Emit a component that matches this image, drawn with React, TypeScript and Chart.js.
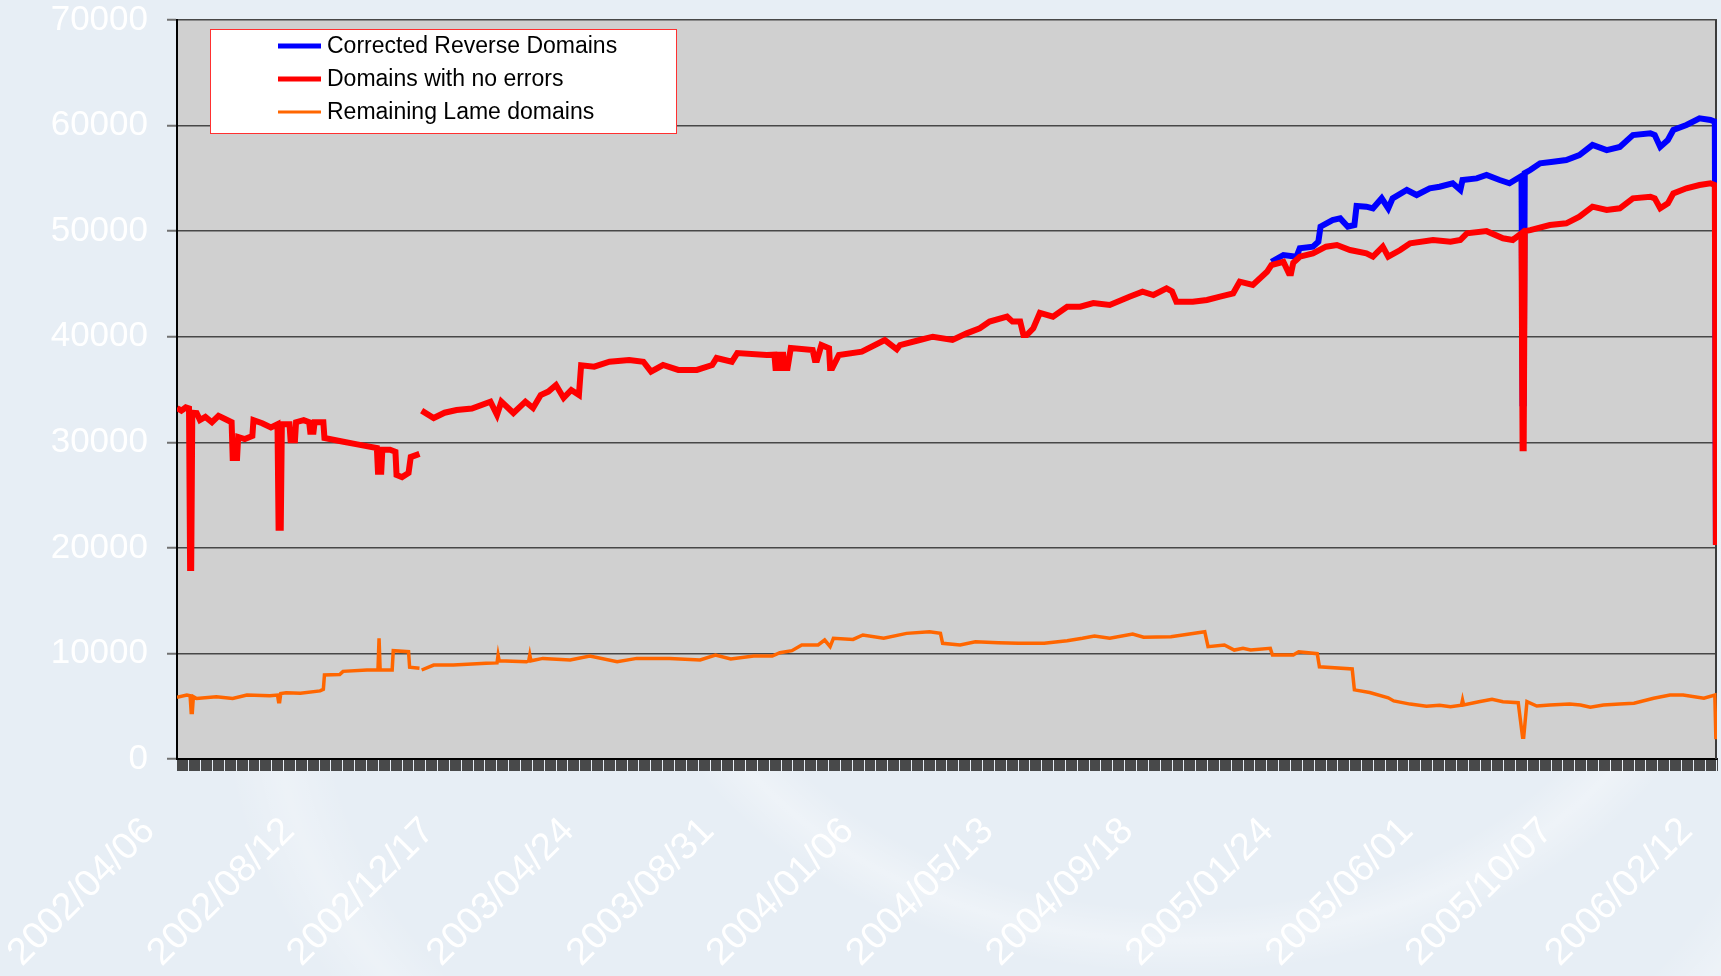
import { useEffect, useRef } from "react";
import { Chart, registerables } from "chart.js";

Chart.register(...registerables);

// ---------- data ----------
const dateLabels = [
  "2002/04/06", "2002/08/12", "2002/12/17", "2003/04/24", "2003/08/31", "2004/01/06",
  "2004/05/13", "2004/09/18", "2005/01/24", "2005/06/01", "2005/10/07", "2006/02/12",
];
const labelEvery = 128; // categories (days) between labelled ticks
const dayCount = 1410; // last category index on the axis

const seriesNames = ["Corrected Reverse Domains", "Domains with no errors", "Remaining Lame domains"];

// [day index, value]
const correctedReverse: [number, number | null][] = [
  [1002, 47100], [1013, 47740], [1025, 47580], [1028, 48370], [1040, 48530], [1045, 49000],
  [1047, 50420], [1058, 51050], [1065, 51210], [1072, 50420], [1078, 50580], [1080, 52380],
  [1089, 52320], [1095, 52160], [1103, 53110], [1109, 52160], [1113, 53110], [1126, 53900],
  [1135, 53420], [1147, 54060], [1156, 54210], [1168, 54530], [1175, 53900], [1177, 54840],
  [1190, 55000], [1199, 55320], [1211, 54840], [1220, 54530], [1231, 55220], [1232, 33700],
  [1233, 33700], [1234, 55500], [1239, 55790], [1248, 56420], [1260, 56580], [1272, 56740],
  [1284, 57210], [1296, 58160], [1309, 57680], [1321, 57980], [1333, 59100], [1349, 59270],
  [1353, 59100], [1358, 57980], [1365, 58630], [1370, 59580], [1382, 60050], [1394, 60680],
  [1404, 60530], [1408, 60370], [1409, 20300],
];

const noErrors: [number, number | null][] = [
  [0, 33250], [4, 33000], [8, 33300], [11, 33200], [12, 18100], [13, 18100], [14, 32800],
  [18, 32770], [21, 32100], [26, 32400], [32, 31900], [38, 32500], [44, 32200], [50, 31900],
  [51, 28500], [55, 28500], [56, 30500], [62, 30300], [69, 30600], [70, 32100], [78, 31800],
  [86, 31400], [92, 31700], [93, 21900], [95, 21900], [96, 31700], [103, 31700], [104, 30200],
  [108, 30200], [109, 31900], [116, 32100], [121, 31900], [122, 31000], [125, 31000],
  [126, 31900], [134, 31900], [135, 30400], [150, 30100], [165, 29800], [183, 29450],
  [184, 27200], [187, 27200], [188, 29300], [195, 29300], [200, 29100], [201, 26900],
  [206, 26700], [212, 27100], [214, 28600], [222, 28900], [223, null],
  [224, 33000], [235, 32300], [245, 32800], [256, 33050], [270, 33200], [287, 33850],
  [293, 32600], [297, 33850], [308, 32770], [319, 33850], [326, 33250], [333, 34480],
  [340, 34800], [347, 35420], [354, 34200], [361, 34950], [368, 34480], [370, 37300],
  [382, 37160], [396, 37630], [414, 37800], [427, 37630], [434, 36690], [445, 37320],
  [459, 36850], [476, 36850], [490, 37320], [494, 37980], [508, 37630], [513, 38450],
  [540, 38270], [547, 38300], [548, 37030], [551, 37030], [552, 38300], [555, 38300],
  [556, 37030], [559, 37030], [562, 38930], [582, 38740], [584, 37800], [586, 37800],
  [590, 39210], [597, 38900], [598, 37030], [600, 37030], [606, 38270], [627, 38580],
  [648, 39680], [659, 38800], [662, 39210], [680, 39690], [692, 40000], [710, 39690],
  [723, 40320], [735, 40800], [744, 41430], [760, 41900], [765, 41430], [772, 41430],
  [775, 40160], [778, 40160], [784, 40800], [790, 42250], [802, 41900], [815, 42840],
  [827, 42840], [839, 43190], [854, 43000], [872, 43790], [884, 44260], [894, 43950],
  [906, 44580], [911, 44300], [915, 43320], [930, 43320], [943, 43480], [955, 43790],
  [967, 44110], [973, 45210], [985, 44900], [998, 46150], [1002, 46790], [1013, 47100],
  [1018, 46000], [1020, 46000], [1022, 47000], [1028, 47580], [1040, 47900], [1052, 48530],
  [1062, 48690], [1074, 48210], [1089, 47900], [1095, 47580], [1104, 48530], [1109, 47580],
  [1120, 48210], [1129, 48850], [1150, 49160], [1166, 49000], [1175, 49160], [1181, 49790],
  [1199, 50000], [1214, 49320], [1223, 49160], [1231, 49790], [1232, 29430], [1233, 29430],
  [1234, 50000], [1239, 50100], [1257, 50580], [1272, 50740], [1284, 51370], [1296, 52320],
  [1309, 52000], [1321, 52160], [1333, 53110], [1349, 53260], [1353, 53100], [1358, 52160],
  [1365, 52630], [1370, 53580], [1382, 54060], [1394, 54370], [1404, 54530], [1408, 54370],
  [1409, 20270],
];

const lameDomains: [number, number | null][] = [
  [0, 5840], [9, 6060], [12, 6000], [13, 4400], [14, 4400], [15, 5900], [18, 5730],
  [36, 5900], [51, 5730], [64, 6060], [85, 6000], [92, 6060], [93, 5430], [94, 5430],
  [95, 6200], [100, 6280], [113, 6220], [131, 6450], [134, 6600], [135, 7960], [149, 8000],
  [152, 8300], [174, 8430], [184, 8430], [185, 11430], [186, 8430], [197, 8430], [198, 10260],
  [212, 10160], [213, 8690], [222, 8590], [223, null],
  [224, 8430], [235, 8900], [253, 8900], [283, 9060], [293, 9100], [294, 9850], [295, 9310],
  [320, 9220], [322, 9300], [323, 9850], [324, 9300], [335, 9530], [360, 9380], [378, 9750],
  [403, 9220], [421, 9530], [451, 9530], [479, 9380], [493, 9850], [507, 9470], [528, 9750],
  [545, 9750], [552, 10070], [563, 10260], [572, 10800], [587, 10800], [593, 11270],
  [598, 10640], [601, 11430], [619, 11330], [628, 11750], [647, 11430], [668, 11900],
  [689, 12060], [699, 11900], [701, 10960], [717, 10800], [731, 11110], [752, 11010],
  [770, 10960], [794, 10960], [815, 11200], [829, 11430], [840, 11650], [854, 11430],
  [875, 11840], [885, 11530], [910, 11590], [927, 11840], [941, 12060], [944, 10640],
  [959, 10800], [968, 10320], [976, 10480], [983, 10320], [1001, 10480], [1003, 9850],
  [1022, 9850], [1027, 10160], [1044, 9980], [1046, 8740], [1076, 8530], [1078, 6550],
  [1092, 6300], [1109, 5800], [1114, 5500], [1129, 5200], [1144, 5000], [1156, 5100],
  [1166, 4950], [1176, 5100], [1177, 5590], [1178, 5120], [1192, 5430], [1204, 5650],
  [1214, 5430], [1228, 5330], [1232, 2050], [1233, 2050], [1236, 5430], [1245, 5020],
  [1257, 5120], [1275, 5210], [1285, 5120], [1294, 4900], [1306, 5120], [1321, 5210],
  [1334, 5280], [1352, 5750], [1367, 6060], [1379, 6060], [1398, 5750], [1408, 6060],
  [1409, 1870],
];

const yMin = 0;
const yMax = 70000;
const yStep = 10000;

// ---------- styling ----------
const FONT = '"Liberation Sans", Arial, Helvetica, sans-serif';

const plotAreaPlugin = {
  id: "plotArea",
  beforeDraw(chart: any) {
    const { ctx, chartArea: a } = chart;
    ctx.save();
    ctx.fillStyle = "#d0d0d0";
    ctx.fillRect(a.left, a.top, a.right - a.left, a.bottom - a.top);
    ctx.restore();
  },
  beforeDatasetsDraw(chart: any) {
    const { ctx, chartArea: a } = chart;
    ctx.save();
    ctx.strokeStyle = "#3c3c3c";
    ctx.lineWidth = 2;
    ctx.beginPath();
    ctx.moveTo(a.right - 1, a.top);
    ctx.lineTo(a.right - 1, a.bottom);
    ctx.stroke();
    ctx.restore();
  },
};

const legendBoxPlugin = {
  id: "legendBox",
  afterDraw(chart: any) {
    const { ctx, chartArea: a } = chart;
    const left = a.left + 33;
    const top = a.top + 9;
    const w = 466;
    const h = 104;
    ctx.save();
    ctx.fillStyle = "#ffffff";
    ctx.fillRect(left, top, w, h);
    ctx.strokeStyle = "#ff3030";
    ctx.lineWidth = 1;
    ctx.strokeRect(left + 0.5, top + 0.5, w, h);
    ctx.font = `23px ${FONT}`;
    ctx.textBaseline = "middle";
    ctx.textAlign = "left";
    chart.data.datasets.forEach((ds: any, i: number) => {
      const y = top + 17 + i * 33;
      ctx.strokeStyle = ds.borderColor;
      ctx.lineWidth = ds.legendLineWidth ?? ds.borderWidth;
      ctx.lineCap = "butt";
      ctx.beginPath();
      ctx.moveTo(left + 68, y);
      ctx.lineTo(left + 111, y);
      ctx.stroke();
      ctx.fillStyle = "#000000";
      ctx.fillText(ds.label, left + 117, y + 1);
    });
    ctx.restore();
  },
};

const toPoints = (s: [number, number | null][]) => s.map(([x, y]) => ({ x, y }));

export default function App() {
  const ref = useRef<HTMLCanvasElement | null>(null);

  useEffect(() => {
    const canvas = ref.current;
    if (!canvas) return;
    const chart = new Chart(canvas, {
      type: "line",
      data: {
        datasets: [
          {
            label: seriesNames[0],
            data: toPoints(correctedReverse) as any,
            borderColor: "#0000ff",
            backgroundColor: "#0000ff",
            borderWidth: 6,
            legendLineWidth: 5,
            order: 1,
          } as any,
          {
            label: seriesNames[1],
            data: toPoints(noErrors) as any,
            borderColor: "#ff0000",
            backgroundColor: "#ff0000",
            borderWidth: 6,
            legendLineWidth: 5,
            order: 0,
          } as any,
          {
            label: seriesNames[2],
            data: toPoints(lameDomains) as any,
            borderColor: "#ff6600",
            backgroundColor: "#ff6600",
            borderWidth: 3.5,
            legendLineWidth: 3,
            order: 2,
          } as any,
        ],
      },
      options: {
        animation: false,
        responsive: false,
        events: [],
        elements: {
          point: { radius: 0, hoverRadius: 0 },
          line: { tension: 0, borderCapStyle: "butt", borderJoinStyle: "miter", fill: false },
        },
        layout: { padding: { top: 20, right: 4, left: 0, bottom: 0 } },
        plugins: {
          legend: { display: false },
          tooltip: { enabled: false },
        },
        scales: {
          x: {
            type: "linear",
            min: 0,
            max: dayCount,
            afterBuildTicks: (axis: any) => {
              const t: { value: number }[] = [];
              for (let v = 0; v <= dayCount; v++) t.push({ value: v });
              axis.ticks = t;
            },
            afterFit: (axis: any) => {
              axis.height = 217;
              axis.paddingLeft = 0;
              axis.paddingRight = 0;
              axis.paddingTop = 0;
              axis.paddingBottom = 0;
            },
            ticks: {
              autoSkip: false,
              minRotation: 45,
              maxRotation: 45,
              color: "#ffffff",
              font: { family: FONT, size: 38 },
              padding: 38,
              labelOffset: -28,
              callback: (v: any) => {
                const n = Number(v);
                if (n % labelEvery !== 0) return "";
                return dateLabels[n / labelEvery] ?? "";
              },
            },
            grid: {
              drawOnChartArea: false,
              drawTicks: true,
              tickLength: 12,
              color: "#2a2a2a",
              lineWidth: 0.85,
            },
            border: { display: true, color: "#000000", width: 2 },
          },
          y: {
            min: yMin,
            max: yMax,
            afterFit: (axis: any) => {
              axis.width = 177;
              axis.paddingLeft = 0;
              axis.paddingRight = 0;
              axis.paddingTop = 0;
              axis.paddingBottom = 0;
            },
            ticks: {
              stepSize: yStep,
              color: "#ffffff",
              font: { family: FONT, size: 35, lineHeight: 1 },
              padding: 19,
              callback: (v: any) => String(v),
            },
            grid: {
              color: "#474747",
              lineWidth: 1.5,
              tickLength: 10,
              tickColor: "#707070",
              tickWidth: 2,
            },
            border: { display: true, color: "#000000", width: 2 },
          },
        },
      } as any,
      plugins: [plotAreaPlugin, legendBoxPlugin],
    });
    return () => chart.destroy();
  }, []);

  return (
    <div
      style={{
        position: "relative",
        width: 1721,
        height: 976,
        overflow: "hidden",
        background:
          "radial-gradient(ellipse 640px 470px at 1180px 560px, rgba(255,255,255,0) 74%, rgba(255,255,255,0.3) 81%, rgba(255,255,255,0) 88%)," +
          "radial-gradient(ellipse 900px 620px at 1050px 700px, rgba(255,255,255,0) 80%, rgba(255,255,255,0.25) 86%, rgba(255,255,255,0) 92%)," +
          "#e7eef5",
      }}
    >
      <style>{"body{margin:0;}"}</style>
      <canvas ref={ref} width={1721} height={976} style={{ display: "block" }} />
    </div>
  );
}
